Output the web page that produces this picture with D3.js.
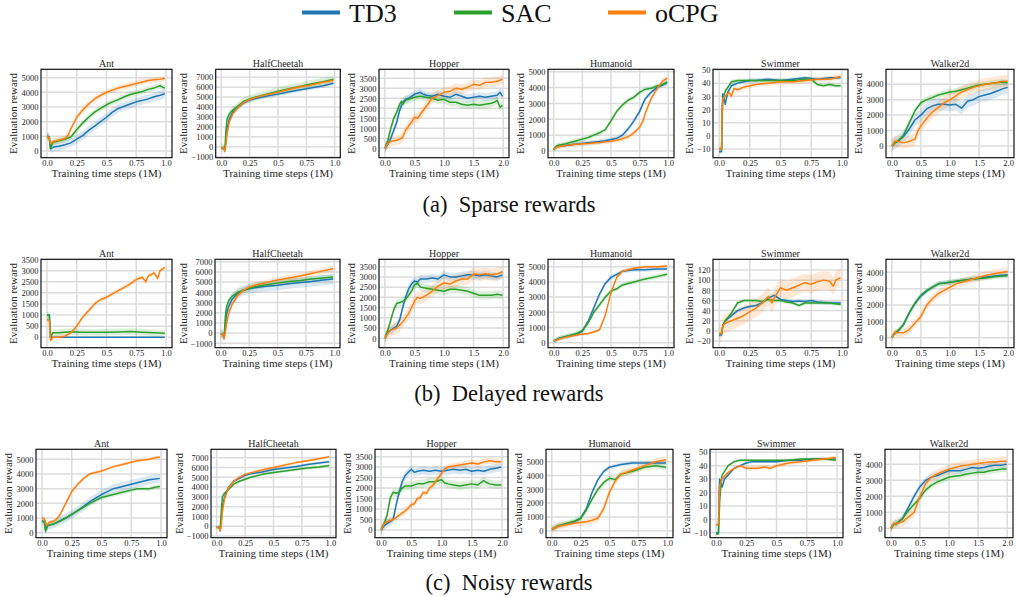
<!DOCTYPE html>
<html><head><meta charset="utf-8">
<script src="https://cdn.jsdelivr.net/npm/d3@7"></script>
<style>body{margin:0;background:#fff}svg{display:block}</style>
</head><body><svg id="c" width="1016" height="597" font-family="Liberation Serif"></svg>
<script>
// ---------- labels ----------
const seriesNames = ["TD3", "SAC", "oCPG"];
const envNames = ["Ant", "HalfCheetah", "Hopper", "Humanoid", "Swimmer", "Walker2d"];
const captions = ["(a)\u2002Sparse rewards", "(b)\u2002Delayed rewards", "(c)\u2002Noisy rewards"];
const envSteps = [1, 1, 2, 1, 1, 2]; // training length in 1M steps
const xTicks1M = [0, 0.25, 0.5, 0.75, 1.0];
const xTickLabels1M = ["0.0", "0.25", "0.5", "0.75", "1.0"];
const xTicks2M = [0, 0.5, 1, 1.5, 2];
const xTickLabels2M = ["0.0", "0.5", "1.0", "1.5", "2.0"];
const xLabel = "Training time steps (1M)";
const yLabel = "Evaluation reward";

// ---------- y ticks ----------
const yTicksAnt5k = [0, 1000, 2000, 3000, 4000, 5000];
const yTicksAnt3k5 = [0, 500, 1000, 1500, 2000, 2500, 3000, 3500];
const yTicksHC = [-1000, 0, 1000, 2000, 3000, 4000, 5000, 6000, 7000];
const yTicksHopper = [0, 500, 1000, 1500, 2000, 2500, 3000, 3500];
const yTicksHumanoid = [0, 1000, 2000, 3000, 4000, 5000];
const yTicksSwim50 = [-10, 0, 10, 20, 30, 40, 50];
const yTicksSwim120 = [-20, 0, 20, 40, 60, 80, 100, 120];
const yTicksWalker = [0, 1000, 2000, 3000, 4000];

const sparseYTicks = [yTicksAnt5k, yTicksHC, yTicksHopper, yTicksHumanoid, yTicksSwim50, yTicksWalker];
const delayedYTicks = [yTicksAnt3k5, yTicksHC, yTicksHopper, yTicksHumanoid, yTicksSwim120, yTicksWalker];
const noisyYTicks = [yTicksAnt5k, yTicksHC, yTicksHopper, yTicksHumanoid, yTicksSwim50, yTicksWalker];

const sparseYDomains = [[-460, 5570], [-1100, 7800], [-470, 3950], [-420, 5150], [-16.6, 50.5], [-760, 4970]];
const delayedYDomains = [[-470, 3510], [-1430, 7235], [-460, 3860], [-330, 5490], [-33, 141], [-610, 4800]];
const noisyYDomains = [[-340, 5680], [-1170, 7860], [-370, 3850], [-510, 5900], [-13.7, 52.2], [-590, 4940]];

// ---------- std (band half-width) per env: [TD3, SAC, oCPG] ----------
const sparseStd = [[300, 200, 200], [200, 400, 200], [200, 200, 250], [150, 150, 150], [1.5, 1.5, 2], [400, 200, 400]];
const delayedStd = [[0, 150, 100], [500, 300, 300], [200, 200, 300], [150, 150, 100], [4, 4, 18], [150, 150, 250]];
const noisyStd = [[300, 150, 100], [150, 150, 150], [200, 200, 150], [150, 200, 250], [1, 1, 1.5], [200, 200, 300]];

// ---------- (a) Sparse rewards ----------
const sparse_Ant_TD3 = [[0,1000],[0.02,950],[0.03,150],[0.05,250],[0.08,300],[0.1,320],[0.15,420],[0.2,550],[0.25,800],[0.3,1050],[0.35,1400],[0.4,1700],[0.45,2000],[0.5,2300],[0.55,2650],[0.6,2900],[0.65,3050],[0.7,3200],[0.75,3350],[0.8,3450],[0.85,3550],[0.9,3700],[0.95,3800],[0.99,3900]];
const sparse_Ant_SAC = [[0,1000],[0.02,900],[0.03,150],[0.05,600],[0.08,650],[0.1,700],[0.15,800],[0.2,950],[0.25,1450],[0.3,1900],[0.35,2300],[0.4,2650],[0.45,2900],[0.5,3150],[0.55,3350],[0.6,3500],[0.65,3700],[0.7,3850],[0.75,3950],[0.8,4050],[0.85,4200],[0.9,4300],[0.95,4450],[0.97,4350],[0.99,4300]];
const sparse_Ant_oCPG = [[0,1000],[0.02,900],[0.03,500],[0.05,650],[0.08,700],[0.1,750],[0.15,850],[0.18,1100],[0.2,1500],[0.25,2300],[0.3,2800],[0.35,3200],[0.4,3550],[0.45,3800],[0.5,4000],[0.55,4150],[0.6,4300],[0.65,4400],[0.7,4500],[0.75,4600],[0.8,4700],[0.85,4800],[0.9,4850],[0.95,4900],[0.99,4950]];
const sparse_HC_TD3 = [[0,-100],[0.02,-100],[0.03,-350],[0.04,500],[0.05,1800],[0.07,2800],[0.1,3500],[0.15,4000],[0.2,4450],[0.25,4700],[0.3,4850],[0.4,5100],[0.5,5300],[0.6,5550],[0.7,5750],[0.8,5950],[0.9,6150],[0.99,6400]];
const sparse_HC_SAC = [[0,-100],[0.02,-100],[0.03,-400],[0.04,1500],[0.05,2800],[0.07,3300],[0.1,3700],[0.15,4150],[0.2,4600],[0.25,4800],[0.3,5000],[0.4,5300],[0.5,5600],[0.6,5850],[0.7,6100],[0.8,6350],[0.9,6550],[0.99,6800]];
const sparse_HC_oCPG = [[0,-100],[0.02,-100],[0.03,-450],[0.04,200],[0.05,1300],[0.07,2500],[0.1,3300],[0.15,4000],[0.2,4500],[0.25,4750],[0.3,4950],[0.4,5250],[0.5,5500],[0.6,5800],[0.7,6050],[0.8,6250],[0.9,6500],[0.99,6700]];
const sparse_Hopper_TD3 = [[0,0],[0.05,200],[0.1,500],[0.15,900],[0.2,1300],[0.25,1900],[0.3,2300],[0.35,2450],[0.4,2500],[0.45,2600],[0.5,2700],[0.55,2750],[0.6,2800],[0.65,2700],[0.7,2650],[0.8,2600],[0.9,2700],[1.0,2600],[1.1,2550],[1.2,2700],[1.3,2600],[1.4,2500],[1.5,2550],[1.6,2600],[1.7,2550],[1.8,2600],[1.9,2650],[1.95,2800],[1.99,2600]];
const sparse_Hopper_SAC = [[0,0],[0.05,400],[0.1,1000],[0.15,1500],[0.2,1800],[0.25,2200],[0.28,2350],[0.3,2200],[0.35,2400],[0.4,2450],[0.5,2550],[0.6,2600],[0.7,2550],[0.8,2500],[0.9,2400],[1.0,2450],[1.1,2300],[1.2,2300],[1.3,2200],[1.4,2150],[1.5,2200],[1.6,2150],[1.7,2200],[1.8,2250],[1.85,2300],[1.9,2400],[1.95,2050],[1.99,2150]];
const sparse_Hopper_oCPG = [[0,0],[0.05,250],[0.1,350],[0.15,380],[0.2,400],[0.25,450],[0.3,550],[0.35,900],[0.4,1100],[0.45,1300],[0.5,1550],[0.55,1500],[0.6,1700],[0.65,1900],[0.7,2100],[0.75,2300],[0.8,2500],[0.9,2650],[1.0,2800],[1.1,2850],[1.2,3000],[1.3,2950],[1.4,3050],[1.5,3200],[1.6,3150],[1.7,3300],[1.8,3300],[1.9,3350],[1.99,3450]];
const sparse_Humanoid_TD3 = [[0,100],[0.03,300],[0.1,350],[0.2,450],[0.3,520],[0.4,600],[0.45,650],[0.5,720],[0.55,800],[0.6,1000],[0.65,1400],[0.7,1900],[0.75,2500],[0.78,3000],[0.8,3300],[0.85,3700],[0.9,4000],[0.95,4150],[0.99,4300]];
const sparse_Humanoid_SAC = [[0,100],[0.03,350],[0.1,450],[0.15,550],[0.2,650],[0.25,750],[0.3,850],[0.35,1000],[0.4,1150],[0.45,1350],[0.5,1900],[0.55,2500],[0.6,2900],[0.65,3200],[0.7,3400],[0.75,3700],[0.8,3900],[0.85,3950],[0.9,4100],[0.95,4200],[0.99,4350]];
const sparse_Humanoid_oCPG = [[0,100],[0.03,250],[0.1,350],[0.2,430],[0.3,480],[0.4,540],[0.5,620],[0.55,680],[0.6,780],[0.65,900],[0.7,1150],[0.75,1500],[0.78,1900],[0.8,2400],[0.85,3300],[0.9,3900],[0.95,4400],[0.99,4600]];
const sparse_Swimmer_TD3 = [[0,-12],[0.02,-12],[0.025,20],[0.03,32],[0.04,28],[0.05,24],[0.07,33],[0.1,38],[0.15,40],[0.2,41],[0.25,42],[0.3,42],[0.4,43],[0.5,42],[0.6,43],[0.7,44],[0.8,43],[0.9,44],[0.99,44]];
const sparse_Swimmer_SAC = [[0,-10],[0.02,-10],[0.025,15],[0.03,28],[0.05,34],[0.08,38],[0.1,41],[0.15,42],[0.2,42],[0.3,42],[0.4,42],[0.5,42],[0.6,42],[0.7,43],[0.75,43],[0.8,39],[0.85,38],[0.9,39],[0.95,38],[0.99,38]];
const sparse_Swimmer_oCPG = [[0,-10],[0.02,-10],[0.025,20],[0.03,28],[0.05,30],[0.08,33],[0.1,30],[0.12,36],[0.15,35],[0.2,37],[0.25,38],[0.3,39],[0.4,40],[0.5,41],[0.6,41],[0.7,42],[0.8,43],[0.9,43],[0.99,45]];
const sparse_Walker_TD3 = [[0,0],[0.05,200],[0.1,300],[0.2,600],[0.3,1100],[0.4,1700],[0.5,2000],[0.6,2400],[0.7,2600],[0.8,2700],[0.9,2700],[1.0,2650],[1.1,2700],[1.2,2450],[1.3,2900],[1.4,3000],[1.5,3200],[1.6,3300],[1.7,3400],[1.8,3550],[1.9,3700],[1.99,3800]];
const sparse_Walker_SAC = [[0,0],[0.05,200],[0.1,300],[0.2,700],[0.3,1500],[0.4,2300],[0.5,2800],[0.6,3000],[0.7,3150],[0.8,3300],[0.9,3400],[1.0,3500],[1.1,3550],[1.2,3650],[1.3,3750],[1.4,3850],[1.5,3950],[1.6,4000],[1.7,4050],[1.8,4100],[1.9,4150],[1.99,4100]];
const sparse_Walker_oCPG = [[0,0],[0.05,300],[0.1,300],[0.2,200],[0.3,300],[0.4,450],[0.45,1000],[0.5,1300],[0.6,1800],[0.7,2200],[0.8,2500],[0.9,2800],[1.0,3000],[1.1,3250],[1.2,3500],[1.3,3650],[1.4,3800],[1.5,3900],[1.6,4000],[1.7,4050],[1.8,4100],[1.9,4200],[1.99,4200]];

// ---------- (b) Delayed rewards ----------
const delayed_Ant_TD3 = [[0,1000],[0.02,1000],[0.03,0],[0.1,0],[0.3,0],[0.5,0],[0.7,0],[0.9,0],[0.99,0]];
const delayed_Ant_SAC = [[0,1000],[0.02,1000],[0.03,0],[0.05,200],[0.1,200],[0.15,230],[0.2,250],[0.3,230],[0.4,220],[0.5,230],[0.6,240],[0.7,260],[0.8,230],[0.9,200],[0.99,180]];
const delayed_Ant_oCPG = [[0,800],[0.02,750],[0.03,-150],[0.05,0],[0.1,0],[0.15,50],[0.2,200],[0.25,500],[0.3,900],[0.35,1200],[0.4,1500],[0.45,1700],[0.5,1800],[0.55,1950],[0.6,2100],[0.65,2250],[0.7,2400],[0.75,2600],[0.8,2700],[0.83,2500],[0.85,2750],[0.9,2900],[0.93,2650],[0.95,3000],[0.99,3150]];
const delayed_HC_TD3 = [[0,-100],[0.02,-100],[0.03,-500],[0.04,500],[0.05,1800],[0.07,2600],[0.1,3300],[0.15,3900],[0.2,4200],[0.25,4350],[0.3,4450],[0.4,4600],[0.5,4700],[0.6,4850],[0.7,4950],[0.8,5050],[0.9,5200],[0.99,5300]];
const delayed_HC_SAC = [[0,-100],[0.02,-100],[0.03,-450],[0.04,1500],[0.05,2500],[0.07,3200],[0.1,3600],[0.15,4000],[0.2,4200],[0.25,4400],[0.3,4550],[0.4,4750],[0.5,4900],[0.6,5050],[0.7,5150],[0.8,5300],[0.9,5400],[0.99,5500]];
const delayed_HC_oCPG = [[0,-100],[0.02,-100],[0.03,-550],[0.04,0],[0.05,800],[0.07,1900],[0.1,2800],[0.15,3700],[0.2,4200],[0.25,4500],[0.3,4700],[0.4,4950],[0.5,5200],[0.6,5400],[0.7,5600],[0.8,5850],[0.9,6100],[0.99,6300]];
const delayed_Hopper_TD3 = [[0,0],[0.05,300],[0.1,400],[0.15,500],[0.2,600],[0.25,900],[0.3,1500],[0.35,2000],[0.4,2400],[0.45,2650],[0.5,2800],[0.55,2750],[0.6,2900],[0.7,2900],[0.8,2950],[0.9,2900],[1.0,3100],[1.1,3000],[1.2,3000],[1.3,3050],[1.4,3100],[1.5,3100],[1.6,3050],[1.7,3100],[1.8,3050],[1.9,3000],[1.99,3100]];
const delayed_Hopper_SAC = [[0,0],[0.05,400],[0.1,900],[0.15,1400],[0.2,1700],[0.25,1750],[0.3,1800],[0.35,1900],[0.4,2100],[0.45,2300],[0.5,2600],[0.55,2700],[0.6,2500],[0.7,2450],[0.8,2400],[0.9,2350],[1.0,2300],[1.1,2400],[1.2,2400],[1.3,2350],[1.4,2300],[1.5,2200],[1.6,2100],[1.7,2100],[1.8,2100],[1.9,2150],[1.99,2100]];
const delayed_Hopper_oCPG = [[0,0],[0.05,250],[0.1,400],[0.2,500],[0.3,800],[0.35,1000],[0.4,1200],[0.5,1800],[0.55,2000],[0.6,1950],[0.7,2100],[0.8,2300],[0.9,2550],[1.0,2700],[1.1,2650],[1.2,2800],[1.3,2900],[1.4,2900],[1.5,3150],[1.6,3100],[1.7,3150],[1.8,3100],[1.9,3150],[1.99,3250]];
const delayed_Humanoid_TD3 = [[0,100],[0.05,300],[0.1,400],[0.2,550],[0.25,750],[0.3,1400],[0.35,2300],[0.4,3200],[0.45,3900],[0.5,4300],[0.55,4500],[0.6,4700],[0.7,4800],[0.8,4800],[0.9,4850],[0.99,4850]];
const delayed_Humanoid_SAC = [[0,100],[0.05,300],[0.1,400],[0.2,600],[0.25,800],[0.3,1300],[0.35,2000],[0.4,2500],[0.45,3000],[0.5,3400],[0.55,3550],[0.6,3800],[0.65,3900],[0.7,4000],[0.8,4200],[0.9,4350],[0.99,4500]];
const delayed_Humanoid_oCPG = [[0,100],[0.05,250],[0.1,350],[0.2,500],[0.3,600],[0.35,700],[0.4,850],[0.45,1800],[0.5,3300],[0.55,4300],[0.6,4700],[0.7,4900],[0.8,5000],[0.9,5000],[0.99,5050]];
const delayed_Swimmer_TD3 = [[0,-8],[0.02,-8],[0.03,10],[0.05,20],[0.1,30],[0.15,40],[0.2,45],[0.25,48],[0.3,50],[0.35,55],[0.4,65],[0.45,70],[0.5,62],[0.55,60],[0.6,58],[0.65,59],[0.7,58],[0.75,60],[0.8,57],[0.9,55],[0.99,55]];
const delayed_Swimmer_SAC = [[0,-5],[0.02,-5],[0.03,10],[0.05,20],[0.1,35],[0.15,55],[0.2,60],[0.25,60],[0.3,60],[0.35,58],[0.4,62],[0.45,60],[0.5,60],[0.55,57],[0.6,55],[0.65,50],[0.7,55],[0.8,55],[0.9,55],[0.99,52]];
const delayed_Swimmer_oCPG = [[0,-5],[0.02,-5],[0.03,10],[0.05,15],[0.1,20],[0.15,25],[0.2,30],[0.25,38],[0.3,45],[0.35,55],[0.4,68],[0.43,55],[0.45,65],[0.5,85],[0.55,80],[0.6,85],[0.65,90],[0.7,95],[0.75,92],[0.8,97],[0.85,100],[0.9,98],[0.93,88],[0.95,100],[0.99,105]];
const delayed_Walker_TD3 = [[0,0],[0.05,300],[0.1,400],[0.2,800],[0.3,1500],[0.4,2100],[0.5,2550],[0.6,2850],[0.7,3100],[0.8,3300],[0.9,3350],[1.0,3400],[1.1,3450],[1.2,3500],[1.4,3600],[1.6,3700],[1.8,3800],[1.99,3850]];
const delayed_Walker_SAC = [[0,0],[0.05,300],[0.1,400],[0.2,800],[0.3,1550],[0.4,2150],[0.5,2600],[0.6,2900],[0.7,3100],[0.8,3300],[0.9,3350],[1.0,3400],[1.1,3450],[1.2,3500],[1.4,3600],[1.6,3650],[1.8,3750],[1.99,3800]];
const delayed_Walker_oCPG = [[0,0],[0.05,350],[0.1,300],[0.2,300],[0.3,500],[0.4,900],[0.5,1300],[0.6,2000],[0.7,2400],[0.8,2700],[0.9,2900],[1.0,3100],[1.1,3300],[1.2,3400],[1.4,3600],[1.6,3800],[1.8,3950],[1.99,4050]];

// ---------- (c) Noisy rewards ----------
const noisy_Ant_TD3 = [[0,800],[0.02,750],[0.03,200],[0.05,500],[0.1,600],[0.15,800],[0.2,1000],[0.25,1250],[0.3,1500],[0.35,1800],[0.4,2100],[0.45,2350],[0.5,2600],[0.55,2800],[0.6,3000],[0.65,3100],[0.7,3200],[0.75,3300],[0.8,3400],[0.85,3500],[0.9,3600],[0.95,3650],[0.99,3700]];
const noisy_Ant_SAC = [[0,800],[0.02,750],[0.03,100],[0.05,500],[0.1,600],[0.15,800],[0.2,1000],[0.25,1250],[0.3,1500],[0.35,1750],[0.4,2000],[0.45,2200],[0.5,2400],[0.55,2500],[0.6,2600],[0.65,2700],[0.7,2800],[0.75,2900],[0.8,3000],[0.85,3000],[0.9,3000],[0.95,3100],[0.99,3150]];
const noisy_Ant_oCPG = [[0,1000],[0.02,950],[0.04,500],[0.06,700],[0.1,800],[0.12,900],[0.15,1200],[0.2,2000],[0.25,2800],[0.3,3300],[0.35,3700],[0.4,4000],[0.45,4100],[0.5,4200],[0.55,4350],[0.6,4500],[0.65,4600],[0.7,4700],[0.75,4800],[0.8,4900],[0.85,4950],[0.9,5000],[0.95,5100],[0.99,5150]];
const noisy_HC_TD3 = [[0,-100],[0.02,-100],[0.03,-450],[0.04,500],[0.05,2000],[0.07,3000],[0.1,3900],[0.15,4600],[0.2,4900],[0.25,5200],[0.3,5350],[0.4,5550],[0.5,5800],[0.6,5950],[0.7,6100],[0.8,6300],[0.9,6450],[0.99,6600]];
const noisy_HC_SAC = [[0,-100],[0.02,-100],[0.03,-400],[0.04,1500],[0.05,3000],[0.07,3400],[0.1,3700],[0.15,4300],[0.2,4600],[0.25,4800],[0.3,5000],[0.4,5300],[0.5,5500],[0.6,5650],[0.7,5800],[0.8,5950],[0.9,6050],[0.99,6200]];
const noisy_HC_oCPG = [[0,-100],[0.02,-100],[0.03,-500],[0.04,0],[0.05,1500],[0.07,2800],[0.1,3800],[0.15,4600],[0.2,5000],[0.25,5300],[0.3,5450],[0.4,5750],[0.5,6000],[0.6,6250],[0.7,6500],[0.8,6700],[0.9,6900],[0.99,7100]];
const noisy_Hopper_TD3 = [[0,0],[0.05,200],[0.1,300],[0.15,400],[0.2,500],[0.25,1200],[0.3,1800],[0.35,2300],[0.4,2600],[0.45,2750],[0.5,2900],[0.55,2750],[0.6,2800],[0.7,2850],[0.8,2800],[0.9,2850],[1.0,2800],[1.1,2850],[1.2,2900],[1.3,2850],[1.4,2900],[1.5,2800],[1.6,2850],[1.7,2800],[1.8,2900],[1.9,2950],[1.99,3000]];
const noisy_Hopper_SAC = [[0,0],[0.05,300],[0.1,700],[0.15,1500],[0.2,1800],[0.25,1750],[0.3,1800],[0.35,2000],[0.4,2100],[0.5,2100],[0.6,2200],[0.7,2200],[0.8,2300],[0.9,2300],[1.0,2400],[1.05,2250],[1.1,2200],[1.2,2150],[1.3,2100],[1.4,2150],[1.5,2200],[1.6,2150],[1.7,2350],[1.75,2250],[1.8,2200],[1.9,2150],[1.99,2150]];
const noisy_Hopper_oCPG = [[0,0],[0.05,300],[0.1,400],[0.15,450],[0.2,500],[0.25,600],[0.3,700],[0.35,800],[0.4,900],[0.45,1050],[0.5,1200],[0.55,1250],[0.6,1500],[0.65,1550],[0.7,1800],[0.75,1750],[0.8,2000],[0.85,2100],[0.9,2300],[0.95,2500],[1.0,2700],[1.05,2900],[1.1,3000],[1.2,3050],[1.3,3100],[1.4,3150],[1.5,3200],[1.6,3150],[1.7,3250],[1.8,3300],[1.9,3250],[1.99,3250]];
const noisy_Humanoid_TD3 = [[0,100],[0.05,300],[0.1,450],[0.2,650],[0.25,900],[0.3,1600],[0.35,2800],[0.4,3700],[0.45,4300],[0.5,4600],[0.6,4800],[0.7,4900],[0.8,4900],[0.9,4900],[0.99,4900]];
const noisy_Humanoid_SAC = [[0,100],[0.05,350],[0.1,450],[0.2,700],[0.25,900],[0.3,1500],[0.35,2300],[0.4,3000],[0.45,3500],[0.5,3800],[0.55,3700],[0.6,4100],[0.7,4300],[0.8,4600],[0.9,4700],[0.99,4600]];
const noisy_Humanoid_oCPG = [[0,100],[0.05,300],[0.1,400],[0.2,550],[0.3,650],[0.35,750],[0.4,900],[0.45,1600],[0.5,2800],[0.55,3600],[0.6,4100],[0.7,4400],[0.8,4700],[0.9,5000],[0.99,5150]];
const noisy_Swimmer_TD3 = [[0,-10],[0.02,-10],[0.025,20],[0.03,30],[0.05,24],[0.07,30],[0.1,33],[0.15,38],[0.2,40],[0.25,42],[0.3,43],[0.4,43],[0.5,43],[0.6,44],[0.7,44],[0.8,45],[0.9,45],[0.99,45]];
const noisy_Swimmer_SAC = [[0,-11],[0.02,-11],[0.03,13],[0.04,25],[0.05,33],[0.08,37],[0.1,40],[0.15,43],[0.2,44],[0.3,44],[0.4,44],[0.5,44],[0.6,44],[0.7,45],[0.8,45],[0.9,45],[0.99,44]];
const noisy_Swimmer_oCPG = [[0,-4],[0.02,-4],[0.03,25],[0.05,30],[0.08,33],[0.1,35],[0.15,38],[0.2,40],[0.25,38],[0.3,38],[0.35,38],[0.4,39],[0.45,38],[0.5,40],[0.6,42],[0.7,43],[0.8,44],[0.9,45],[0.99,46]];
const noisy_Walker_TD3 = [[0,0],[0.05,250],[0.1,300],[0.2,600],[0.3,1300],[0.4,2000],[0.5,2600],[0.6,3000],[0.7,3200],[0.8,3300],[0.9,3450],[1.0,3600],[1.1,3600],[1.2,3600],[1.3,3700],[1.4,3800],[1.5,3750],[1.6,3800],[1.7,3900],[1.8,3950],[1.9,3950],[1.99,4000]];
const noisy_Walker_SAC = [[0,0],[0.05,250],[0.1,300],[0.2,600],[0.3,1100],[0.4,1500],[0.5,1900],[0.6,2400],[0.7,2700],[0.8,2900],[0.9,3050],[1.0,3200],[1.1,3250],[1.2,3300],[1.3,3400],[1.4,3450],[1.5,3500],[1.6,3500],[1.7,3600],[1.8,3650],[1.9,3700],[1.99,3700]];
const noisy_Walker_oCPG = [[0,0],[0.05,300],[0.1,300],[0.2,400],[0.3,700],[0.4,1000],[0.45,1500],[0.5,2000],[0.6,2800],[0.7,3200],[0.8,3400],[0.9,3550],[1.0,3700],[1.1,3800],[1.2,3900],[1.3,3950],[1.4,4000],[1.5,4050],[1.6,4100],[1.7,4150],[1.8,4150],[1.9,4200],[1.99,4200]];

// ---------- assemble ----------
const conditions = [
  { caption: captions[0], std: sparseStd, yDomains: sparseYDomains, yTicks: sparseYTicks,
    series: [[sparse_Ant_TD3, sparse_Ant_SAC, sparse_Ant_oCPG], [sparse_HC_TD3, sparse_HC_SAC, sparse_HC_oCPG],
             [sparse_Hopper_TD3, sparse_Hopper_SAC, sparse_Hopper_oCPG], [sparse_Humanoid_TD3, sparse_Humanoid_SAC, sparse_Humanoid_oCPG],
             [sparse_Swimmer_TD3, sparse_Swimmer_SAC, sparse_Swimmer_oCPG], [sparse_Walker_TD3, sparse_Walker_SAC, sparse_Walker_oCPG]] },
  { caption: captions[1], std: delayedStd, yDomains: delayedYDomains, yTicks: delayedYTicks,
    series: [[delayed_Ant_TD3, delayed_Ant_SAC, delayed_Ant_oCPG], [delayed_HC_TD3, delayed_HC_SAC, delayed_HC_oCPG],
             [delayed_Hopper_TD3, delayed_Hopper_SAC, delayed_Hopper_oCPG], [delayed_Humanoid_TD3, delayed_Humanoid_SAC, delayed_Humanoid_oCPG],
             [delayed_Swimmer_TD3, delayed_Swimmer_SAC, delayed_Swimmer_oCPG], [delayed_Walker_TD3, delayed_Walker_SAC, delayed_Walker_oCPG]] },
  { caption: captions[2], std: noisyStd, yDomains: noisyYDomains, yTicks: noisyYTicks,
    series: [[noisy_Ant_TD3, noisy_Ant_SAC, noisy_Ant_oCPG], [noisy_HC_TD3, noisy_HC_SAC, noisy_HC_oCPG],
             [noisy_Hopper_TD3, noisy_Hopper_SAC, noisy_Hopper_oCPG], [noisy_Humanoid_TD3, noisy_Humanoid_SAC, noisy_Humanoid_oCPG],
             [noisy_Swimmer_TD3, noisy_Swimmer_SAC, noisy_Swimmer_oCPG], [noisy_Walker_TD3, noisy_Walker_SAC, noisy_Walker_oCPG]] }
];

// ---------- layout / style ----------
const COLORS = ["#1f77b4", "#2ca02c", "#ff7f0e"];
const TEXT = "#262626";
const rowTops = [69.3, 259.3, 449.3];
const panelH = 88.4;
const colBounds = [
  [[41,172],[215.7,340.3],[379,509],[548,674],[713,848],[886,1014]],
  [[41,172],[215,340],[379,509],[548,674],[713,848],[886,1014]],
  [[36,167],[211,336],[375,508],[546,673],[710,843],[885,1013]]
];
const captionY = [212, 401, 590];
const FONT = "Liberation Serif";
const fmtNum = v => (v < 0 ? "\u2212" : "") + Math.abs(v);

const svg = d3.select("#c");
const defs = svg.append("defs");
const txt = (sel) => sel.append("text").attr("font-family", FONT);

// legend
const legendX = [302, 454, 608];
seriesNames.forEach((name, i) => {
  svg.append("line").attr("x1", legendX[i]).attr("x2", legendX[i] + 38).attr("y1", 12.5).attr("y2", 12.5)
    .attr("stroke", COLORS[i]).attr("stroke-width", 4);
  txt(svg).attr("x", legendX[i] + 47).attr("y", 22).attr("font-size", 26).attr("fill", "#111").text(name);
});

conditions.forEach((cond, r) => {
  envNames.forEach((env, c) => {
    const [x0, x1] = colBounds[r][c];
    const y0 = rowTops[r], y1 = y0 + panelH;
    const is2M = envSteps[c] === 2;
    const xs = d3.scaleLinear().domain(is2M ? [-0.1, 2.1] : [-0.05, 1.05]).range([x0, x1]);
    const ys = d3.scaleLinear().domain(cond.yDomains[c]).range([y1, y0]);
    const xt = is2M ? xTicks2M : xTicks1M;
    const xtl = is2M ? xTickLabels2M : xTickLabels1M;
    const yt = cond.yTicks[c];
    const g = svg.append("g");
    const cid = `clip-${r}-${c}`;
    defs.append("clipPath").attr("id", cid).append("rect")
      .attr("x", x0).attr("y", y0).attr("width", x1 - x0).attr("height", y1 - y0);

    // grid
    g.append("g").selectAll("line").data(xt).join("line")
      .attr("x1", d => xs(d)).attr("x2", d => xs(d)).attr("y1", y0).attr("y2", y1)
      .attr("stroke", "#dcdcdc").attr("stroke-width", 1.5);
    g.append("g").selectAll("line").data(yt).join("line")
      .attr("y1", d => ys(d)).attr("y2", d => ys(d)).attr("x1", x0).attr("x2", x1)
      .attr("stroke", "#dcdcdc").attr("stroke-width", 1.5);

    const plot = g.append("g").attr("clip-path", `url(#${cid})`);
    cond.series[c].forEach((data, s) => {
      const sd = cond.std[c][s];
      if (sd > 0) {
        plot.append("path").datum(data)
          .attr("d", d3.area().x(d => xs(d[0])).y0(d => ys(d[1] - sd)).y1(d => ys(d[1] + sd)))
          .attr("fill", COLORS[s]).attr("fill-opacity", 0.17);
      }
    });
    cond.series[c].forEach((data, s) => {
      plot.append("path").datum(data)
        .attr("d", d3.line().x(d => xs(d[0])).y(d => ys(d[1])))
        .attr("fill", "none").attr("stroke", COLORS[s]).attr("stroke-width", 1.5)
        .attr("stroke-linejoin", "round");
    });

    // frame
    g.append("rect").attr("x", x0).attr("y", y0).attr("width", x1 - x0).attr("height", y1 - y0)
      .attr("fill", "none").attr("stroke", "#111").attr("stroke-width", 1.2);

    // axes
    const gx = g.append("g").attr("transform", `translate(0,${y1})`)
      .call(d3.axisBottom(xs).tickValues(xt).tickFormat((d, i) => xtl[i]).tickSize(0).tickPadding(2));
    gx.select(".domain").remove();
    gx.attr("color", TEXT).attr("font-family", FONT).attr("font-size", 8.5);
    gx.selectAll("text").attr("font-family", FONT);

    const gy = g.append("g").attr("transform", `translate(${x0},0)`)
      .call(d3.axisLeft(ys).tickValues(yt).tickFormat(fmtNum).tickSize(0).tickPadding(2.5));
    gy.select(".domain").remove();
    gy.attr("color", TEXT).attr("font-family", FONT).attr("font-size", 8.5);
    gy.selectAll("text").attr("font-family", FONT);
    let maxW = 0;
    gy.selectAll("text").each(function () { maxW = Math.max(maxW, this.getComputedTextLength()); });

    // labels
    txt(g).attr("x", (x0 + x1) / 2).attr("y", y0 - 2.5).attr("text-anchor", "middle")
      .attr("font-size", 10).attr("fill", TEXT).text(env);
    txt(g).attr("x", (x0 + x1) / 2).attr("y", y1 + 19).attr("text-anchor", "middle")
      .attr("font-size", 11).attr("fill", TEXT).text(xLabel);
    const lx = x0 - 2.5 - maxW - 4.2, ly = (y0 + y1) / 2;
    txt(g).attr("transform", `translate(${lx},${ly}) rotate(-90)`).attr("text-anchor", "middle")
      .attr("font-size", 11).attr("fill", TEXT).text(yLabel);
  });
  txt(svg).attr("x", 509).attr("y", captionY[r]).attr("text-anchor", "middle")
    .attr("font-size", 22.5).attr("fill", "#111").text(cond.caption);
});
</script></body></html>
